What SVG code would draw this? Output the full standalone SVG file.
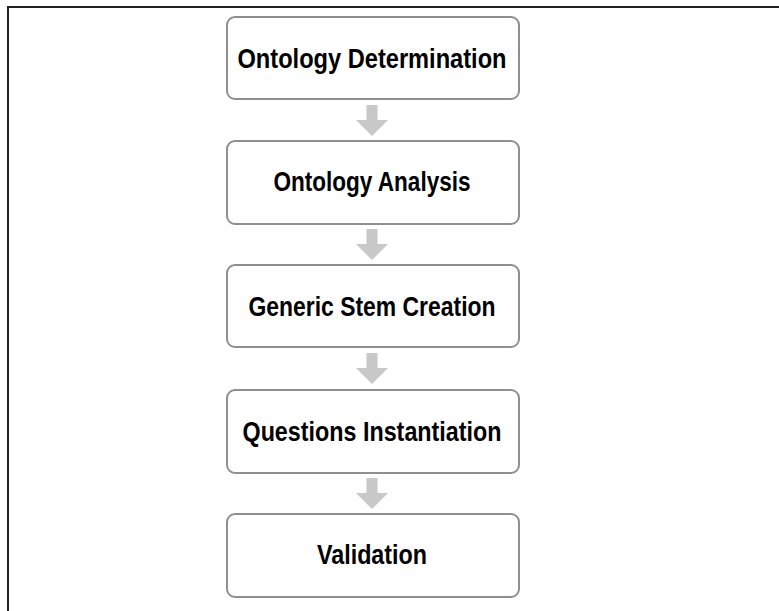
<svg xmlns="http://www.w3.org/2000/svg" width="779" height="611" viewBox="0 0 779 611">
<style>
.box{fill:#fff;stroke:#8f8f8f;stroke-width:2}
.lbl{font-family:"Liberation Sans",Arial,sans-serif;font-weight:bold;font-size:28px;fill:#000;text-anchor:middle}
.arr{fill:#c8c8c8}
</style>
<defs>
<path id="ar" d="M-5.5,0 H5.5 V15 H16 L0,31 L-16,15 H-5.5 Z"/>
</defs>
<rect x="8" y="7" width="820" height="700" fill="#fff" stroke="#222" stroke-width="2"/>
<g id="connectors">
<use href="#ar" class="arr" x="372" y="105"/>
<use href="#ar" class="arr" x="372" y="229"/>
<use href="#ar" class="arr" x="372" y="353"/>
<use href="#ar" class="arr" x="372" y="478"/>
</g>
<g id="n1"><rect class="box" x="227" y="17" width="292" height="82" rx="8"/><text class="lbl" x="372" y="68" textLength="269" lengthAdjust="spacingAndGlyphs">Ontology Determination</text></g>
<g id="n2"><rect class="box" x="227" y="141" width="292" height="83" rx="8"/><text class="lbl" x="372" y="191" textLength="197" lengthAdjust="spacingAndGlyphs">Ontology Analysis</text></g>
<g id="n3"><rect class="box" x="227" y="265" width="292" height="82" rx="8"/><text class="lbl" x="372" y="316" textLength="247" lengthAdjust="spacingAndGlyphs">Generic Stem Creation</text></g>
<g id="n4"><rect class="box" x="227" y="390" width="292" height="83" rx="8"/><text class="lbl" x="372" y="441" textLength="259" lengthAdjust="spacingAndGlyphs">Questions Instantiation</text></g>
<g id="n5"><rect class="box" x="227" y="514" width="292" height="83" rx="8"/><text class="lbl" x="372" y="564" textLength="110" lengthAdjust="spacingAndGlyphs">Validation</text></g>
</svg>
